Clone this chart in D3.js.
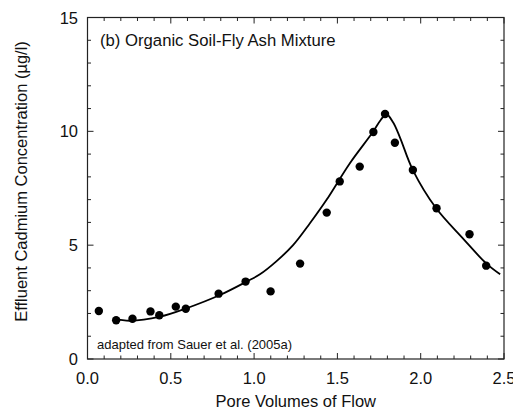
<!DOCTYPE html>
<html><head><meta charset="utf-8">
<script src="https://cdn.jsdelivr.net/npm/d3@7"></script>
<style>body{margin:0;background:#fff}svg{display:block}text{font-family:Arial,"Liberation Sans",sans-serif;fill:#111}</style>
</head><body><svg id="c" width="513" height="411"></svg>
<script>
// Measured data points
const obsX = [0.068,0.172,0.27,0.378,0.431,0.53,0.59,0.787,0.949,1.099,1.276,1.436,1.514,1.634,1.716,1.786,1.845,1.953,2.095,2.293,2.393];
const obsY = [2.11,1.70,1.77,2.09,1.92,2.30,2.21,2.87,3.40,2.97,4.19,6.43,7.80,8.45,9.97,10.76,9.50,8.30,6.62,5.48,4.10];
// Model curve
const fitX = [0.156,0.256,0.436,0.595,0.795,0.955,1.035,1.135,1.234,1.334,1.434,1.574,1.714,1.760,1.794,1.834,1.874,1.953,2.093,2.253,2.393,2.477];
const fitY = [1.77,1.68,1.86,2.23,2.81,3.40,3.72,4.30,5.00,5.95,6.98,8.59,9.98,10.50,10.75,10.40,9.76,8.30,6.62,5.30,4.20,3.72];
const xTicks = [0.0,0.5,1.0,1.5,2.0,2.5];
const yTicks = [0,5,10,15];
const titleText = "(b) Organic Soil-Fly Ash Mixture";
const noteText = "adapted from Sauer et al. (2005a)";
const xLabel = "Pore Volumes of Flow";
const yLabel = "Effluent Cadmium Concentration (\u00b5g/l)";

const svg = d3.select("#c");
const L = 87.5, R = 504, T = 17.5, B = 359;
const x = d3.scaleLinear().domain([0,2.5]).range([L,R]);
const y = d3.scaleLinear().domain([0,15]).range([B,T]);
const ax = "#222";

// ticks (inward, all four sides)
const xMinor = d3.range(0,2.5001,0.1).map(v=>+v.toFixed(2));
const yMinor = d3.range(0,15.001,1);
function isMajorX(v){return Math.abs(v*2-Math.round(v*2))<1e-6;}
function isMajorY(v){return v%5===0;}
const g = svg.append("g");
xMinor.forEach(v=>{
  const len = isMajorX(v)?6:3.5;
  g.append("line").attr("x1",x(v)).attr("x2",x(v)).attr("y1",B).attr("y2",B-len).attr("stroke",ax).attr("stroke-width",1);
  g.append("line").attr("x1",x(v)).attr("x2",x(v)).attr("y1",T).attr("y2",T+len).attr("stroke",ax).attr("stroke-width",1);
});
yMinor.forEach(v=>{
  const len = isMajorY(v)?6:3.5;
  g.append("line").attr("y1",y(v)).attr("y2",y(v)).attr("x1",L).attr("x2",L+len).attr("stroke",ax).attr("stroke-width",1);
  g.append("line").attr("y1",y(v)).attr("y2",y(v)).attr("x1",R).attr("x2",R-len).attr("stroke",ax).attr("stroke-width",1);
});
g.append("rect").attr("x",L).attr("y",T).attr("width",R-L).attr("height",B-T).attr("fill","none").attr("stroke",ax).attr("stroke-width",1.2);

// tick labels
svg.selectAll(".xl").data(xTicks).join("text").attr("x",d=>x(d)).attr("y",383.5)
  .attr("text-anchor","middle").attr("font-size",16.5).text(d=>d.toFixed(1));
svg.selectAll(".yl").data(yTicks).join("text").attr("x",78).attr("y",d=>y(d)+6)
  .attr("text-anchor","end").attr("font-size",16.5).text(d=>d);

// axis titles
svg.append("text").attr("x",(L+R)/2).attr("y",407).attr("text-anchor","middle").attr("font-size",16.5).text(xLabel);
svg.append("text").attr("transform","translate(27,181.5) rotate(-90)").attr("text-anchor","middle").attr("font-size",16.5).text(yLabel);

// title & note
svg.append("text").attr("x",100).attr("y",46).attr("font-size",16.7).text(titleText);
svg.append("text").attr("x",97).attr("y",348.5).attr("font-size",13).text(noteText);

// curve
const fit = fitX.map((v,i)=>[v,fitY[i]]);
svg.append("path").datum(fit).attr("fill","none").attr("stroke","#000").attr("stroke-width",1.8)
  .attr("d",d3.line().x(d=>x(d[0])).y(d=>y(d[1])).curve(d3.curveCatmullRom.alpha(0.5)));

// points
const obs = obsX.map((v,i)=>[v,obsY[i]]);
svg.selectAll(".pt").data(obs).join("circle").attr("cx",d=>x(d[0])).attr("cy",d=>y(d[1])).attr("r",4.2).attr("fill","#000");
</script></body></html>
